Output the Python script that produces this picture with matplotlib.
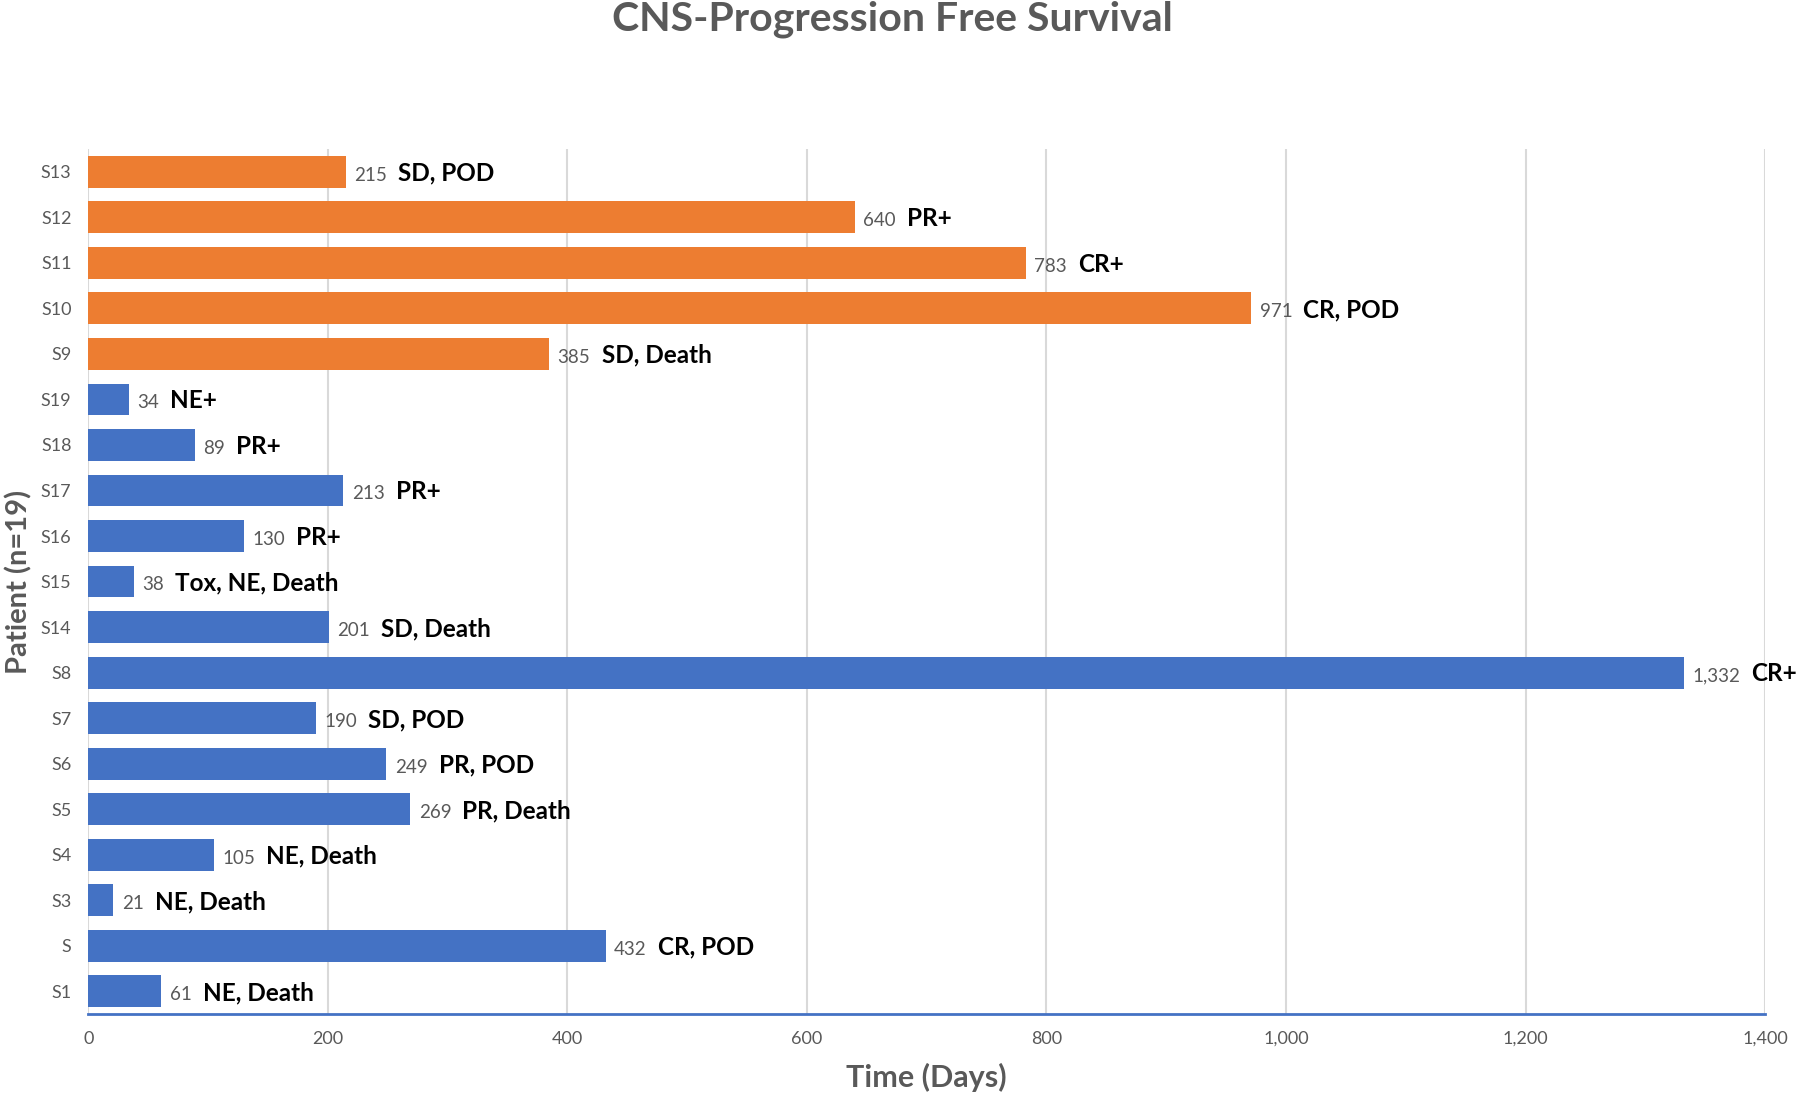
import matplotlib
matplotlib.use("Agg")
import matplotlib.pyplot as plt
from matplotlib.offsetbox import AnnotationBbox, HPacker, TextArea
from matplotlib.ticker import FuncFormatter

# bottom to top, as drawn
patients = ["S1", "S", "S3", "S4", "S5", "S6", "S7", "S8", "S14", "S15",
            "S16", "S17", "S18", "S19", "S9", "S10", "S11", "S12", "S13"]
days = [61, 432, 21, 105, 269, 249, 190, 1332, 201, 38,
        130, 213, 89, 34, 385, 971, 783, 640, 215]
status = ["NE, Death", "CR, POD", "NE, Death", "NE, Death", "PR, Death",
          "PR, POD", "SD, POD", "CR+", "SD, Death", "Tox, NE, Death",
          "PR+", "PR+", "PR+", "NE+", "SD, Death", "CR, POD", "CR+",
          "PR+", "SD, POD"]
group = ["a"] * 14 + ["b"] * 5

colors = {"a": "#4472C4", "b": "#ED7D31"}
gray = "#595959"

plt.rcParams["font.family"] = ["Lato", "DejaVu Sans"]

fig = plt.figure(figsize=(18, 10.96), dpi=100)
ax = fig.add_axes([0.049, 0.0748, 0.9316, 0.7892])

y = list(range(len(patients)))
ax.barh(y, days, height=0.7, color=[colors[g] for g in group], zorder=3)

for yi, d, s in zip(y, days, status):
    box = HPacker(
        children=[
            TextArea(f"{d:,}", textprops=dict(color=gray, fontsize=13.5)),
            TextArea(s, textprops=dict(color="black", fontsize=17.5,
                                       fontweight="bold")),
        ],
        align="baseline", pad=0, sep=8)
    ab = AnnotationBbox(box, (d, yi), xybox=(6, -1), xycoords="data",
                        boxcoords="offset points", box_alignment=(0, 0.5),
                        frameon=False, annotation_clip=False)
    ax.add_artist(ab)

ax.set_xlim(0, 1400)
ax.set_ylim(-0.5, len(patients) - 0.5)
ax.set_xticks(range(0, 1401, 200))
ax.xaxis.set_major_formatter(FuncFormatter(lambda v, p: f"{int(v):,}"))
ax.set_yticks(y)
ax.set_yticklabels(patients)
ax.tick_params(length=0, labelsize=13, labelcolor=gray, pad=12)

ax.grid(axis="x", color="#D9D9D9", linewidth=1.5, zorder=0)
for side in ["top", "right", "left"]:
    ax.spines[side].set_visible(False)
ax.spines["bottom"].set_color("#4472C4")
ax.spines["bottom"].set_linewidth(2)

ax.set_xlabel("Time (Days)", fontsize=22, fontweight="bold", color=gray,
              labelpad=12)
ax.set_ylabel("Patient (n=19)", fontsize=21, fontweight="bold", color=gray,
              labelpad=6)
fig.suptitle("CNS-Progression Free Survival", fontsize=29.5, fontweight="bold",
             color=gray, y=1.0, x=0.496)

fig.savefig("out.png", dpi=100)
